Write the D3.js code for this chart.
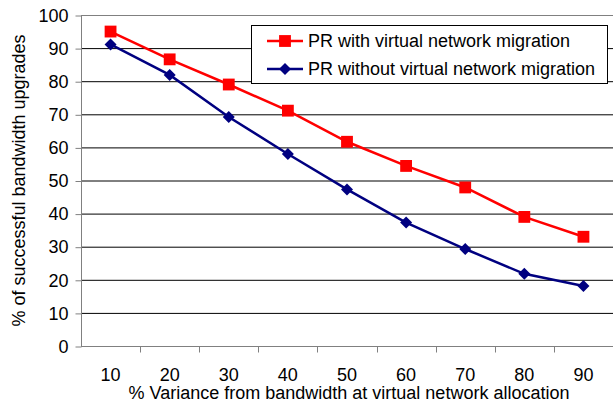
<!DOCTYPE html>
<html>
<head>
<meta charset="utf-8">
<script src="https://cdn.jsdelivr.net/npm/d3@7"></script>
<style>
  body { margin: 0; background: #fff; }
  svg { display: block; font-family: "Liberation Sans", Arial, sans-serif; }
</style>
</head>
<body>
<svg width="613" height="403"></svg>
<script>
// data
const categories = [10, 20, 30, 40, 50, 60, 70, 80, 90];
const withMigration = [95, 86.6, 79, 71.1, 61.7, 54.4, 47.9, 39, 33];
const withoutMigration = [91.1, 81.9, 69.2, 58, 47.3, 37.3, 29.3, 21.8, 18.1];
const yTicks = [0, 10, 20, 30, 40, 50, 60, 70, 80, 90, 100];

const redColor = "#ff0000";
const blueColor = "#000080";
const fontSize = 18;

let svg = d3.select("svg");

const margin = {top: 15, right: 0, bottom: 57, left: 81};
const width = 613 - margin.left - margin.right;
const height = 403 - margin.top - margin.bottom;

let g = svg.append("g").attr("transform", "translate(" + margin.left + "," + margin.top + ")");

let x = d3.scaleBand().domain(categories).range([0, width]);
let y = d3.scaleLinear().domain([0, 100]).range([height, 0]);

// gridlines
g.selectAll(".grid")
    .data(yTicks.filter(d => d > 0))
    .enter().append("line")
    .attr("x1", 0)
    .attr("x2", width)
    .attr("y1", d => y(d) + 0.5)
    .attr("y2", d => y(d) + 0.5)
    .attr("stroke", d => d === 100 ? "#808080" : "#000")
    .attr("stroke-width", 1);

// y axis
let yAxis = g.append("g")
    .attr("transform", "translate(0.5,0.5)")
    .call(d3.axisLeft(y).tickValues(yTicks).tickSize(6).tickPadding(7));
yAxis.selectAll("text").attr("font-size", fontSize).attr("fill", "#000").attr("font-family", "Liberation Sans, Arial, sans-serif");
yAxis.selectAll("line").attr("stroke", "#808080");
yAxis.select(".domain").attr("stroke", "#808080").attr("d", "M0," + height + "V0");

// x axis: ticks at band edges
let xAxis = g.append("g").attr("transform", "translate(0," + (height + 0.5) + ")");
xAxis.append("line")
    .attr("x1", 0).attr("x2", width)
    .attr("stroke", "#808080");
xAxis.selectAll(".xtick")
    .data(categories.slice(1))
    .enter().append("line")
    .attr("x1", d => Math.round(x(d)) + 0.5)
    .attr("x2", d => Math.round(x(d)) + 0.5)
    .attr("y1", 0).attr("y2", 6)
    .attr("stroke", "#808080");
xAxis.selectAll(".xlabel")
    .data(categories)
    .enter().append("text")
    .attr("x", d => x(d) + x.bandwidth() / 2)
    .attr("y", 34)
    .attr("text-anchor", "middle")
    .attr("font-size", fontSize)
    .text(d => d);

// axis titles
svg.append("text")
    .attr("x", margin.left + width / 2 + 2)
    .attr("y", 399)
    .attr("text-anchor", "middle")
    .attr("font-size", fontSize)
    .text("% Variance from bandwidth at virtual network allocation");

svg.append("text")
    .attr("transform", "translate(25," + (margin.top + height / 2) + ") rotate(-90)")
    .attr("text-anchor", "middle")
    .attr("font-size", fontSize)
    .text("% of successful bandwidth upgrades");

// series
let line = d3.line()
    .x(d => x(d[0]) + x.bandwidth() / 2)
    .y(d => y(d[1]));

let redData = d3.zip(categories, withMigration);
let blueData = d3.zip(categories, withoutMigration);

g.append("path")
    .datum(redData)
    .attr("fill", "none")
    .attr("stroke", redColor)
    .attr("stroke-width", 2.5)
    .attr("d", line);

g.append("path")
    .datum(blueData)
    .attr("fill", "none")
    .attr("stroke", blueColor)
    .attr("stroke-width", 2.5)
    .attr("d", line);

const sq = d3.symbol().type(d3.symbolSquare).size(140);
const dia = d3.symbol().type(d3.symbolSquare).size(72);

g.selectAll(".redPt")
    .data(redData)
    .enter().append("path")
    .attr("d", sq)
    .attr("fill", redColor)
    .attr("transform", d => "translate(" + (x(d[0]) + x.bandwidth() / 2) + "," + y(d[1]) + ")");

g.selectAll(".bluePt")
    .data(blueData)
    .enter().append("path")
    .attr("d", dia)
    .attr("fill", blueColor)
    .attr("transform", d => "translate(" + (x(d[0]) + x.bandwidth() / 2) + "," + y(d[1]) + ") rotate(45)");

// legend
let legend = svg.append("g").attr("transform", "translate(251,25)");
legend.append("rect")
    .attr("x", 0.5).attr("y", 0.5)
    .attr("width", 356).attr("height", 58)
    .attr("fill", "#fff")
    .attr("stroke", "#000");

const legendItems = [
    {label: "PR with virtual network migration", color: redColor, sym: sq, rot: 0},
    {label: "PR without virtual network migration", color: blueColor, sym: dia, rot: 45}
];

legendItems.forEach((item, i) => {
    let row = legend.append("g").attr("transform", "translate(0," + (16 + i * 28) + ")");
    row.append("line")
        .attr("x1", 16).attr("x2", 52)
        .attr("stroke", item.color)
        .attr("stroke-width", 2.5);
    row.append("path")
        .attr("d", item.sym)
        .attr("fill", item.color)
        .attr("transform", "translate(34,0) rotate(" + item.rot + ")");
    row.append("text")
        .attr("x", 57)
        .attr("y", 6)
        .attr("font-size", fontSize)
        .text(item.label);
});
</script>
</body>
</html>
